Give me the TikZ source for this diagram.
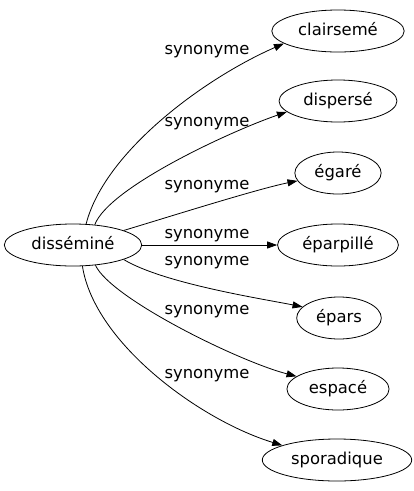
\documentclass[tikz,border=0pt]{standalone}
\usepackage{fontspec}
\setmainfont{DejaVu Sans}
\usetikzlibrary{arrows.meta,shapes.geometric}
\tikzset{word/.style={draw,ellipse,line width=0.8pt,inner xsep=7pt,minimum height=42pt,
    text height=12pt,text depth=3pt,font=\fontsize{16.4}{19}\selectfont},
  rel/.style={anchor=base,inner sep=0pt,font=\fontsize{16.4}{19}\selectfont},
  syn/.style={line width=0.8pt,-{Triangle[length=10pt,width=7pt]}}}

\begin{document}
\begin{tikzpicture}[x=1pt,y=-1pt]
\useasboundingbox (0,0) rectangle (414,491);
\node[word] (src) at (73,245) {disséminé};
\node[word] (tgt1) at (338,31) {clairsemé};
\node[word] (tgt2) at (338,101) {dispersé};
\node[word] (tgt3) at (338,173) {égaré};
\node[word] (tgt4) at (338,245) {éparpillé};
\node[word] (tgt5) at (339,318) {épars};
\node[word] (tgt6) at (338,389) {espacé};
\node[word] (tgt7) at (337,460) {sporadique};
\node[rel] (lab1) at (207,54.5) {synonyme};
\node[rel] (lab2) at (207,126) {synonyme};
\node[rel] (lab3) at (207,189.5) {synonyme};
\node[rel] (lab4) at (207,238) {synonyme};
\node[rel] (lab5) at (207,265.5) {synonyme};
\node[rel] (lab6) at (207,314.5) {synonyme};
\node[rel] (lab7) at (207,378) {synonyme};
\draw[syn] (src.58) .. controls +(18,-71) and +(-82,36) .. (tgt1.193);
\draw[syn] (src.43) .. controls +(14,-37) and +(-58,20) .. (tgt2.192);
\draw[syn] (src.16) .. controls +(40,-12) and +(-40,8) .. (tgt3.191);
\draw[syn] (src) -- (tgt4);
\draw[syn] (src.-16) .. controls +(40,24) and +(-40,-8) .. (tgt5.163);
\draw[syn] (src.-42) .. controls +(15,33) and +(-58,-15) .. (tgt6.163);
\draw[syn] (src.-66) .. controls +(12,77) and +(-82,-25) .. (tgt7.165);
\end{tikzpicture}
\end{document}
